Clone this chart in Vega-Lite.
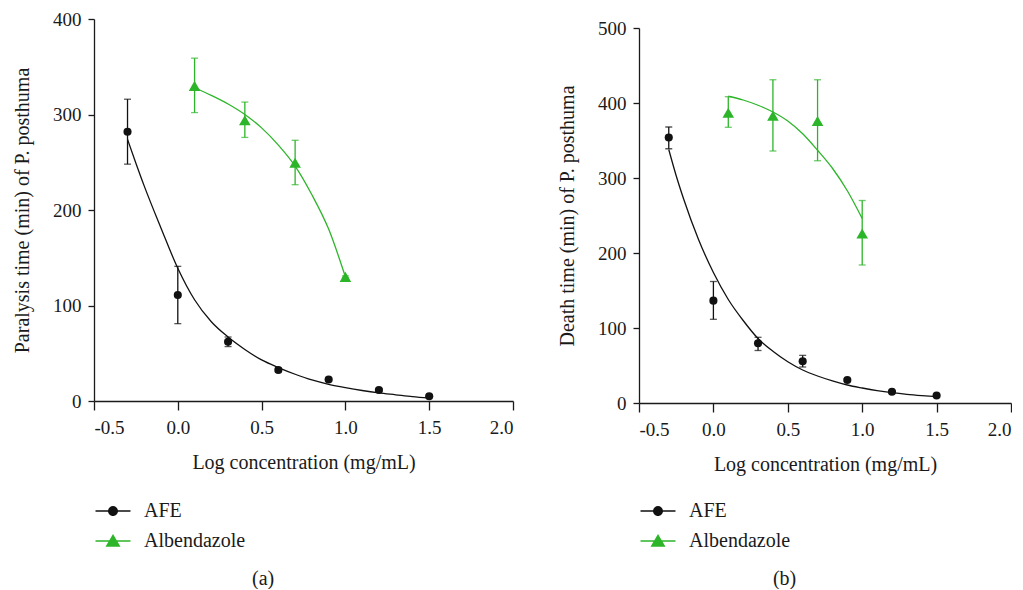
{
  "$schema": "https://vega.github.io/schema/vega-lite/v6.json",
  "background": "white",
  "padding": {"left": 12, "top": 10, "right": 0, "bottom": 0},
  "config": {
    "font": "Liberation Serif",
    "view": {"stroke": null},
    "axis": {
      "grid": false,
      "domainColor": "#1a1a1a",
      "tickColor": "#1a1a1a",
      "labelColor": "#1a1a1a",
      "titleColor": "#1a1a1a",
      "labelFont": "Liberation Serif",
      "titleFont": "Liberation Serif",
      "labelFontSize": 19,
      "titleFontSize": 20,
      "titleFontWeight": "normal",
      "domainWidth": 1.3,
      "tickWidth": 1.3
    },
    "axisX": {"tickSize": 9, "labelPadding": 8, "titlePadding": 15},
    "axisY": {"tickSize": 6, "labelPadding": 7, "titlePadding": 20},
    "legend": {
      "labelFont": "Liberation Serif",
      "labelFontSize": 20,
      "labelColor": "#1a1a1a",
      "padding": 0
    },
    "title": {"font": "Liberation Serif", "fontSize": 20, "fontWeight": "normal", "color": "#1a1a1a"}
  },
  "datasets": {
    "pts": [
      {"panel": "a", "series": "AFE", "x": -0.3, "y": 282, "lo": 248, "hi": 316},
      {"panel": "a", "series": "AFE", "x": 0.0, "y": 111, "lo": 81, "hi": 141},
      {"panel": "a", "series": "AFE", "x": 0.3, "y": 62, "lo": 57, "hi": 67},
      {"panel": "a", "series": "AFE", "x": 0.6, "y": 32.5, "lo": 30.5, "hi": 34.5},
      {"panel": "a", "series": "AFE", "x": 0.9, "y": 22.5, "lo": 21, "hi": 24},
      {"panel": "a", "series": "AFE", "x": 1.2, "y": 11.5, "lo": 10, "hi": 13},
      {"panel": "a", "series": "AFE", "x": 1.5, "y": 5, "lo": 4, "hi": 6},
      {"panel": "a", "series": "Albendazole", "x": 0.1, "y": 330, "lo": 302, "hi": 359},
      {"panel": "a", "series": "Albendazole", "x": 0.4, "y": 294, "lo": 276, "hi": 313},
      {"panel": "a", "series": "Albendazole", "x": 0.7, "y": 249.5, "lo": 226.5, "hi": 273},
      {"panel": "a", "series": "Albendazole", "x": 1.0, "y": 130, "lo": 129, "hi": 131},
      {"panel": "b", "series": "AFE", "x": -0.3, "y": 354, "lo": 339, "hi": 368},
      {"panel": "b", "series": "AFE", "x": 0.0, "y": 136.5, "lo": 111.6, "hi": 162},
      {"panel": "b", "series": "AFE", "x": 0.3, "y": 79.6, "lo": 70, "hi": 87.6},
      {"panel": "b", "series": "AFE", "x": 0.6, "y": 55.6, "lo": 48, "hi": 63.5},
      {"panel": "b", "series": "AFE", "x": 0.9, "y": 30.7, "lo": 29, "hi": 32.5},
      {"panel": "b", "series": "AFE", "x": 1.2, "y": 15, "lo": 14, "hi": 16},
      {"panel": "b", "series": "AFE", "x": 1.5, "y": 10, "lo": 9, "hi": 11},
      {"panel": "b", "series": "Albendazole", "x": 0.1, "y": 387, "lo": 367.6, "hi": 408.4},
      {"panel": "b", "series": "Albendazole", "x": 0.4, "y": 383, "lo": 336, "hi": 431},
      {"panel": "b", "series": "Albendazole", "x": 0.7, "y": 376, "lo": 323, "hi": 431},
      {"panel": "b", "series": "Albendazole", "x": 1.0, "y": 226, "lo": 184, "hi": 270}
    ],
    "curve": [
      {"panel": "a", "series": "AFE", "x": -0.3, "y": 274},
      {"panel": "a", "series": "AFE", "x": -0.25, "y": 249},
      {"panel": "a", "series": "AFE", "x": -0.2, "y": 225},
      {"panel": "a", "series": "AFE", "x": -0.1, "y": 181},
      {"panel": "a", "series": "AFE", "x": 0.0, "y": 139},
      {"panel": "a", "series": "AFE", "x": 0.1, "y": 106},
      {"panel": "a", "series": "AFE", "x": 0.2, "y": 83},
      {"panel": "a", "series": "AFE", "x": 0.3, "y": 67},
      {"panel": "a", "series": "AFE", "x": 0.4, "y": 54},
      {"panel": "a", "series": "AFE", "x": 0.5, "y": 43},
      {"panel": "a", "series": "AFE", "x": 0.6, "y": 35},
      {"panel": "a", "series": "AFE", "x": 0.7, "y": 28},
      {"panel": "a", "series": "AFE", "x": 0.8, "y": 22},
      {"panel": "a", "series": "AFE", "x": 0.9, "y": 17.5},
      {"panel": "a", "series": "AFE", "x": 1.0, "y": 14},
      {"panel": "a", "series": "AFE", "x": 1.1, "y": 11},
      {"panel": "a", "series": "AFE", "x": 1.2, "y": 8.5},
      {"panel": "a", "series": "AFE", "x": 1.3, "y": 6.5},
      {"panel": "a", "series": "AFE", "x": 1.4, "y": 4.5},
      {"panel": "a", "series": "AFE", "x": 1.5, "y": 3},
      {"panel": "a", "series": "Albendazole", "x": 0.1, "y": 328},
      {"panel": "a", "series": "Albendazole", "x": 0.2, "y": 320},
      {"panel": "a", "series": "Albendazole", "x": 0.3, "y": 311},
      {"panel": "a", "series": "Albendazole", "x": 0.4, "y": 300},
      {"panel": "a", "series": "Albendazole", "x": 0.5, "y": 286},
      {"panel": "a", "series": "Albendazole", "x": 0.6, "y": 268},
      {"panel": "a", "series": "Albendazole", "x": 0.7, "y": 246},
      {"panel": "a", "series": "Albendazole", "x": 0.8, "y": 216},
      {"panel": "a", "series": "Albendazole", "x": 0.9, "y": 180},
      {"panel": "a", "series": "Albendazole", "x": 1.0, "y": 130},
      {"panel": "b", "series": "AFE", "x": -0.3, "y": 338},
      {"panel": "b", "series": "AFE", "x": -0.25, "y": 303},
      {"panel": "b", "series": "AFE", "x": -0.2, "y": 272},
      {"panel": "b", "series": "AFE", "x": -0.1, "y": 218},
      {"panel": "b", "series": "AFE", "x": 0.0, "y": 174},
      {"panel": "b", "series": "AFE", "x": 0.1, "y": 138},
      {"panel": "b", "series": "AFE", "x": 0.2, "y": 110},
      {"panel": "b", "series": "AFE", "x": 0.3, "y": 86},
      {"panel": "b", "series": "AFE", "x": 0.4, "y": 69},
      {"panel": "b", "series": "AFE", "x": 0.5, "y": 55},
      {"panel": "b", "series": "AFE", "x": 0.6, "y": 44},
      {"panel": "b", "series": "AFE", "x": 0.7, "y": 36},
      {"panel": "b", "series": "AFE", "x": 0.8, "y": 29.5},
      {"panel": "b", "series": "AFE", "x": 0.9, "y": 24},
      {"panel": "b", "series": "AFE", "x": 1.0, "y": 20},
      {"panel": "b", "series": "AFE", "x": 1.1, "y": 16.5},
      {"panel": "b", "series": "AFE", "x": 1.2, "y": 13.7},
      {"panel": "b", "series": "AFE", "x": 1.3, "y": 11.5},
      {"panel": "b", "series": "AFE", "x": 1.4, "y": 9.8},
      {"panel": "b", "series": "AFE", "x": 1.5, "y": 8.4},
      {"panel": "b", "series": "Albendazole", "x": 0.1, "y": 409},
      {"panel": "b", "series": "Albendazole", "x": 0.2, "y": 404},
      {"panel": "b", "series": "Albendazole", "x": 0.3, "y": 397},
      {"panel": "b", "series": "Albendazole", "x": 0.4, "y": 388},
      {"panel": "b", "series": "Albendazole", "x": 0.5, "y": 376},
      {"panel": "b", "series": "Albendazole", "x": 0.6, "y": 359},
      {"panel": "b", "series": "Albendazole", "x": 0.7, "y": 337},
      {"panel": "b", "series": "Albendazole", "x": 0.8, "y": 313},
      {"panel": "b", "series": "Albendazole", "x": 0.9, "y": 283},
      {"panel": "b", "series": "Albendazole", "x": 1.0, "y": 246}
    ]
  },
  "spacing": 43,
  "resolve": {"legend": {"color": "independent", "shape": "independent"}},
  "hconcat": [
    {
      "width": 419,
      "height": 382,
      "title": {"text": "(a)", "orient": "bottom", "anchor": "middle", "frame": "bounds", "offset": 18},
      "layer": [
        {
          "data": {"name": "curve"},
          "transform": [{"filter": "datum.panel === 'a'"}],
          "mark": {"type": "line", "strokeWidth": 1.3, "interpolate": "monotone"},
          "encoding": {
            "x": {"field": "x", "type": "quantitative", "scale": {"domain": [-0.5, 2.0], "nice": false},
                  "axis": {"values": [-0.5, 0, 0.5, 1, 1.5, 2], "labelExpr": "datum.value < 0 ? '-' + format(-datum.value, '.1f') : format(datum.value, '.1f')", "title": "Log concentration (mg/mL)"}},
            "y": {"field": "y", "type": "quantitative", "scale": {"domain": [0, 400], "nice": false},
                  "axis": {"values": [0, 100, 200, 300, 400], "title": "Paralysis time (min) of P. posthuma"}},
            "stroke": {"field": "series", "type": "nominal", "legend": null,
                       "scale": {"domain": ["AFE", "Albendazole"], "range": ["#111111", "#2db52a"]}},
            "detail": {"field": "series"}
          }
        },
        {
          "data": {"name": "pts"},
          "transform": [{"filter": "datum.panel === 'a'"}],
          "mark": {"type": "rule", "strokeWidth": 1.3},
          "encoding": {
            "x": {"field": "x", "type": "quantitative"},
            "y": {"field": "lo", "type": "quantitative"},
            "y2": {"field": "hi"},
            "stroke": {"field": "series", "type": "nominal", "legend": null}
          }
        },
        {
          "data": {"name": "pts"},
          "transform": [{"filter": "datum.panel === 'a'"}],
          "mark": {"type": "tick", "orient": "horizontal", "size": 7, "thickness": 1.3},
          "encoding": {
            "x": {"field": "x", "type": "quantitative"},
            "y": {"field": "lo", "type": "quantitative"},
            "fill": {"field": "series", "type": "nominal", "legend": null,
                     "scale": {"domain": ["AFE", "Albendazole"], "range": ["#111111", "#2db52a"]}}
          }
        },
        {
          "data": {"name": "pts"},
          "transform": [{"filter": "datum.panel === 'a'"}],
          "mark": {"type": "tick", "orient": "horizontal", "size": 7, "thickness": 1.3},
          "encoding": {
            "x": {"field": "x", "type": "quantitative"},
            "y": {"field": "hi", "type": "quantitative"},
            "fill": {"field": "series", "type": "nominal", "legend": null}
          }
        },
        {
          "data": {"name": "pts"},
          "transform": [{"filter": "datum.panel === 'a'"}],
          "mark": {"type": "point", "filled": true, "opacity": 1, "strokeWidth": 0},
          "encoding": {
            "x": {"field": "x", "type": "quantitative"},
            "y": {"field": "y", "type": "quantitative"},
            "fill": {"field": "series", "type": "nominal", "legend": null},
            "shape": {"condition": {"test": "datum.series === 'AFE'", "value": "circle"}, "value": "triangle-up"},
            "size": {"condition": {"test": "datum.series === 'AFE'", "value": 66}, "value": 135}
          }
        },
        {
          "data": {"name": "pts"},
          "transform": [{"filter": "datum.panel === 'none'"}],
          "mark": {"type": "point", "filled": true, "opacity": 1},
          "encoding": {
            "x": {"field": "x", "type": "quantitative"},
            "y": {"field": "y", "type": "quantitative"},
            "color": {"field": "series", "type": "nominal",
                      "scale": {"domain": ["AFE", "Albendazole"], "range": ["#111111", "#2db52a"]},
                      "legend": {"title": null, "orient": "none", "legendX": 9, "legendY": 482, "direction": "vertical", "symbolSize": 306, "symbolStrokeWidth": 0, "labelOffset": 21, "rowPadding": 10}},
            "shape": {"field": "series", "type": "nominal",
                      "scale": {"domain": ["AFE", "Albendazole"], "range": ["M-2,-0.075H2V0.075H-2ZM0.57,0A0.57,0.57,0,1,1,-0.57,0A0.57,0.57,0,1,1,0.57,0Z", "M-2,-0.075H2V0.075H-2ZM0,-0.8L0.86,0.65L-0.86,0.65Z"]},
                      "legend": {"title": null, "orient": "none", "legendX": 9, "legendY": 482, "direction": "vertical", "symbolSize": 306, "symbolStrokeWidth": 0, "labelOffset": 21, "rowPadding": 10}}
          }
        }
      ]
    },
    {
      "width": 372,
      "height": 384,
      "title": {"text": "(b)", "orient": "bottom", "anchor": "middle", "frame": "bounds", "offset": 18},
      "layer": [
        {
          "data": {"name": "curve"},
          "transform": [{"filter": "datum.panel === 'b'"}],
          "mark": {"type": "line", "strokeWidth": 1.3, "interpolate": "monotone"},
          "encoding": {
            "x": {"field": "x", "type": "quantitative", "scale": {"domain": [-0.5, 2.0], "nice": false},
                  "axis": {"values": [-0.5, 0, 0.5, 1, 1.5, 2], "labelExpr": "datum.value < 0 ? '-' + format(-datum.value, '.1f') : format(datum.value, '.1f')", "title": "Log concentration (mg/mL)"}},
            "y": {"field": "y", "type": "quantitative", "scale": {"domain": [0, 500], "nice": false, "range": [384, 9]},
                  "axis": {"values": [0, 100, 200, 300, 400, 500], "title": "Death time (min) of P. posthuma"}},
            "stroke": {"field": "series", "type": "nominal", "legend": null,
                       "scale": {"domain": ["AFE", "Albendazole"], "range": ["#111111", "#2db52a"]}},
            "detail": {"field": "series"}
          }
        },
        {
          "data": {"name": "pts"},
          "transform": [{"filter": "datum.panel === 'b'"}],
          "mark": {"type": "rule", "strokeWidth": 1.3},
          "encoding": {
            "x": {"field": "x", "type": "quantitative"},
            "y": {"field": "lo", "type": "quantitative"},
            "y2": {"field": "hi"},
            "stroke": {"field": "series", "type": "nominal", "legend": null}
          }
        },
        {
          "data": {"name": "pts"},
          "transform": [{"filter": "datum.panel === 'b'"}],
          "mark": {"type": "tick", "orient": "horizontal", "size": 7, "thickness": 1.3},
          "encoding": {
            "x": {"field": "x", "type": "quantitative"},
            "y": {"field": "lo", "type": "quantitative"},
            "fill": {"field": "series", "type": "nominal", "legend": null,
                     "scale": {"domain": ["AFE", "Albendazole"], "range": ["#111111", "#2db52a"]}}
          }
        },
        {
          "data": {"name": "pts"},
          "transform": [{"filter": "datum.panel === 'b'"}],
          "mark": {"type": "tick", "orient": "horizontal", "size": 7, "thickness": 1.3},
          "encoding": {
            "x": {"field": "x", "type": "quantitative"},
            "y": {"field": "hi", "type": "quantitative"},
            "fill": {"field": "series", "type": "nominal", "legend": null}
          }
        },
        {
          "data": {"name": "pts"},
          "transform": [{"filter": "datum.panel === 'b'"}],
          "mark": {"type": "point", "filled": true, "opacity": 1, "strokeWidth": 0},
          "encoding": {
            "x": {"field": "x", "type": "quantitative"},
            "y": {"field": "y", "type": "quantitative"},
            "fill": {"field": "series", "type": "nominal", "legend": null},
            "shape": {"condition": {"test": "datum.series === 'AFE'", "value": "circle"}, "value": "triangle-up"},
            "size": {"condition": {"test": "datum.series === 'AFE'", "value": 66}, "value": 135}
          }
        },
        {
          "data": {"name": "pts"},
          "transform": [{"filter": "datum.panel === 'none'"}],
          "mark": {"type": "point", "filled": true, "opacity": 1},
          "encoding": {
            "x": {"field": "x", "type": "quantitative"},
            "y": {"field": "y", "type": "quantitative"},
            "color": {"field": "series", "type": "nominal",
                      "scale": {"domain": ["AFE", "Albendazole"], "range": ["#111111", "#2db52a"]},
                      "legend": {"title": null, "orient": "none", "legendX": 9, "legendY": 482, "direction": "vertical", "symbolSize": 306, "symbolStrokeWidth": 0, "labelOffset": 21, "rowPadding": 10}},
            "shape": {"field": "series", "type": "nominal",
                      "scale": {"domain": ["AFE", "Albendazole"], "range": ["M-2,-0.075H2V0.075H-2ZM0.57,0A0.57,0.57,0,1,1,-0.57,0A0.57,0.57,0,1,1,0.57,0Z", "M-2,-0.075H2V0.075H-2ZM0,-0.8L0.86,0.65L-0.86,0.65Z"]},
                      "legend": {"title": null, "orient": "none", "legendX": 9, "legendY": 482, "direction": "vertical", "symbolSize": 306, "symbolStrokeWidth": 0, "labelOffset": 21, "rowPadding": 10}}
          }
        }
      ]
    }
  ]
}
